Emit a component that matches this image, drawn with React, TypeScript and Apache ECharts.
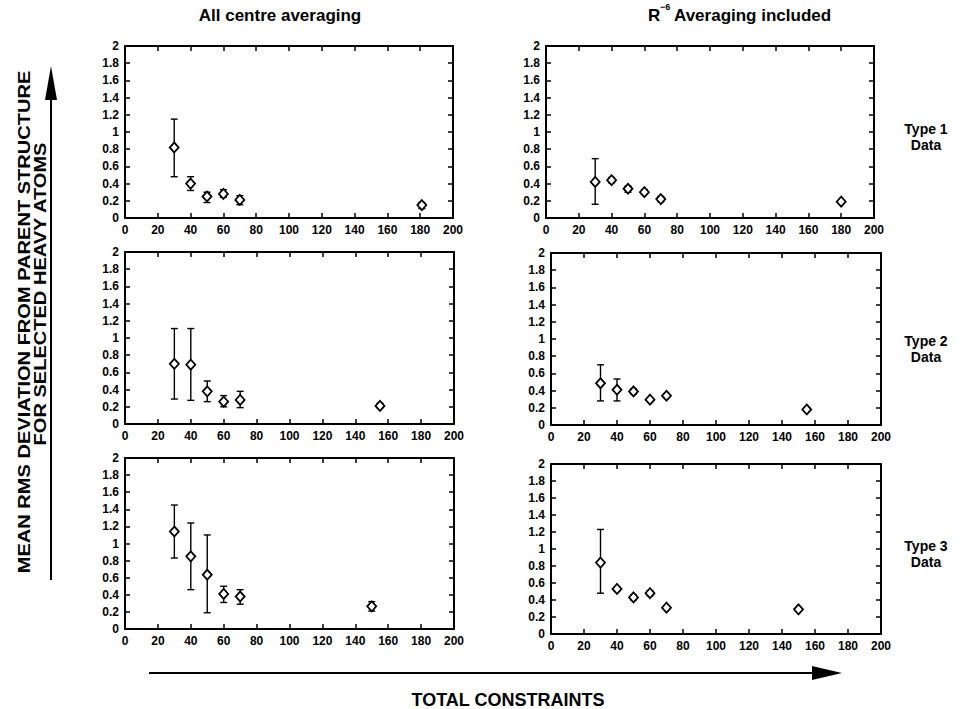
import React, { useEffect, useRef } from "react";
import * as echarts from "echarts";

// ---- data (x = total constraints, y = mean RMS deviation, lo/hi = error bar ends)
const p1X = [30, 40, 50, 60, 70, 181];
const p1Y = [0.82, 0.4, 0.25, 0.28, 0.21, 0.15];
const p1Lo = [0.48, 0.32, 0.18, 0.24, 0.155, 0.11];
const p1Hi = [1.15, 0.48, 0.3, 0.33, 0.26, 0.18];

const p2X = [30, 40, 50, 60, 70, 180];
const p2Y = [0.42, 0.44, 0.34, 0.3, 0.22, 0.19];
const p2Lo = [0.16, 0.41, 0.3, 0.28, 0.19, 0.175];
const p2Hi = [0.69, 0.47, 0.37, 0.33, 0.25, 0.2];

const p3X = [30, 40, 50, 60, 70, 155];
const p3Y = [0.7, 0.69, 0.38, 0.26, 0.28, 0.21];
const p3Lo = [0.29, 0.275, 0.26, 0.2, 0.19, 0.19];
const p3Hi = [1.11, 1.11, 0.5, 0.33, 0.38, 0.24];

const p4X = [30, 40, 50, 60, 70, 155];
const p4Y = [0.485, 0.41, 0.39, 0.295, 0.34, 0.18];
const p4Lo = [0.28, 0.28, 0.36, 0.28, 0.32, 0.165];
const p4Hi = [0.7, 0.535, 0.42, 0.31, 0.36, 0.195];

const p5X = [30, 40, 50, 60, 70, 150];
const p5Y = [1.14, 0.85, 0.635, 0.41, 0.38, 0.265];
const p5Lo = [0.83, 0.46, 0.19, 0.31, 0.29, 0.21];
const p5Hi = [1.45, 1.24, 1.1, 0.5, 0.46, 0.32];

const p6X = [30, 40, 50, 60, 70, 150];
const p6Y = [0.84, 0.53, 0.43, 0.48, 0.31, 0.29];
const p6Lo = [0.48, 0.51, 0.4, 0.45, 0.3, 0.275];
const p6Hi = [1.23, 0.55, 0.46, 0.51, 0.32, 0.305];

const xMin = 0;
const xMax = 200;
const xStep = 20;
const yMin = 0;
const yMax = 2;
const yStep = 0.2;

const columnTitles = ["All centre averaging", "Averaging included"];
const rowLabelsTop = ["Type 1", "Type 2", "Type 3"];
const rowLabelsBottom = ["Data", "Data", "Data"];
const yAxisTitle = ["MEAN RMS DEVIATION FROM PARENT STRUCTURE", "FOR SELECTED HEAVY ATOMS"];
const xAxisTitle = "TOTAL CONSTRAINTS";

const panels = [
  { x: p1X, y: p1Y, lo: p1Lo, hi: p1Hi },
  { x: p2X, y: p2Y, lo: p2Lo, hi: p2Hi },
  { x: p3X, y: p3Y, lo: p3Lo, hi: p3Hi },
  { x: p4X, y: p4Y, lo: p4Lo, hi: p4Hi },
  { x: p5X, y: p5Y, lo: p5Lo, hi: p5Hi },
  { x: p6X, y: p6Y, lo: p6Lo, hi: p6Hi },
];

// layout (pixels)
const gridBoxes = [
  { left: 125, top: 46, width: 328, height: 172 },
  { left: 546, top: 46, width: 328, height: 172 },
  { left: 125, top: 252, width: 329, height: 172 },
  { left: 551, top: 253, width: 330, height: 172 },
  { left: 125, top: 458, width: 329, height: 171 },
  { left: 551, top: 464, width: 330, height: 170 },
];
const rowLabelY = [129, 341, 546];

const FONT = "'Liberation Sans', Arial, Helvetica, sans-serif";
const BLACK = "#000";

export default function App() {
  const ref = useRef<HTMLDivElement>(null);

  useEffect(() => {
    if (!ref.current) return;
    const chart = echarts.init(ref.current, undefined, { renderer: "svg" });

    const fmtY = (v: number) => String(Math.round(v * 10) / 10);

    const grids = gridBoxes.map((g) => ({ ...g, containLabel: false }));

    const xAxes: any[] = [];
    const yAxes: any[] = [];
    const series: any[] = [];

    const axisLine = { show: true, onZero: false, lineStyle: { color: BLACK, width: 2 } };
    const tick = { show: true, inside: true, length: 5, lineStyle: { color: BLACK, width: 1.5 } };
    const label = { color: BLACK, fontSize: 12, fontWeight: "bold", fontFamily: FONT };

    panels.forEach((p, i) => {
      xAxes.push({
        gridIndex: i, type: "value", position: "bottom", min: xMin, max: xMax, interval: xStep,
        axisLine, axisTick: tick, splitLine: { show: false },
        axisLabel: { ...label, margin: 6 },
      });
      xAxes.push({
        gridIndex: i, type: "value", position: "top", min: xMin, max: xMax, interval: xStep,
        axisLine, axisTick: tick, splitLine: { show: false }, axisLabel: { show: false },
      });
      yAxes.push({
        gridIndex: i, type: "value", position: "left", min: yMin, max: yMax, interval: yStep,
        axisLine, axisTick: tick, splitLine: { show: false },
        axisLabel: { ...label, margin: 6, formatter: fmtY },
      });
      yAxes.push({
        gridIndex: i, type: "value", position: "right", min: yMin, max: yMax, interval: yStep,
        axisLine, axisTick: tick, splitLine: { show: false }, axisLabel: { show: false },
      });

      series.push({
        type: "custom",
        xAxisIndex: 2 * i,
        yAxisIndex: 2 * i,
        z: 2,
        silent: true,
        data: p.x.map((x, k) => [x, p.lo[k], p.hi[k]]),
        encode: { x: 0, y: [1, 2] },
        renderItem: (params: any, api: any) => {
          const x = api.value(0);
          const a = api.coord([x, api.value(1)]);
          const b = api.coord([x, api.value(2)]);
          const w = 3.5;
          const st = { stroke: BLACK, lineWidth: 1.4 };
          return {
            type: "group",
            children: [
              { type: "line", shape: { x1: a[0], y1: a[1], x2: b[0], y2: b[1] }, style: st },
              { type: "line", shape: { x1: a[0] - w, y1: a[1], x2: a[0] + w, y2: a[1] }, style: st },
              { type: "line", shape: { x1: b[0] - w, y1: b[1], x2: b[0] + w, y2: b[1] }, style: st },
            ],
          };
        },
      });
      series.push({
        type: "scatter",
        xAxisIndex: 2 * i,
        yAxisIndex: 2 * i,
        z: 3,
        symbol: "diamond",
        symbolSize: [9, 10],
        itemStyle: { color: "#fff", borderColor: BLACK, borderWidth: 1.8, opacity: 1 },
        data: p.x.map((x, k) => [x, p.y[k]]),
      });
    });

    const titleFont = `bold 17px ${FONT}`;
    const rowFont = `bold 14px ${FONT}`;

    const graphic: any[] = [
      { type: "text", x: 280, y: 15, style: { fill: BLACK, font: titleFont, text: columnTitles[0], textAlign: "center", textVerticalAlign: "middle" } },
      { type: "text", x: 648, y: 15, style: { fill: BLACK, font: titleFont, text: "R", textAlign: "left", textVerticalAlign: "middle" } },
      { type: "text", x: 660, y: 7, style: { fill: BLACK, font: `bold 9px ${FONT}`, text: "\u22126", textAlign: "left", textVerticalAlign: "middle" } },
      { type: "text", x: 674, y: 15, style: { fill: BLACK, font: titleFont, text: columnTitles[1], textAlign: "left", textVerticalAlign: "middle" } },
      ...rowLabelsTop.map((t, r) => ({
        type: "text", x: 926, y: rowLabelY[r],
        style: { fill: BLACK, font: rowFont, text: t, textAlign: "center", textVerticalAlign: "middle" },
      })),
      ...rowLabelsBottom.map((t, r) => ({
        type: "text", x: 926, y: rowLabelY[r] + 16,
        style: { fill: BLACK, font: rowFont, text: t, textAlign: "center", textVerticalAlign: "middle" },
      })),
      { type: "text", x: 24, y: 322, rotation: Math.PI / 2, scaleX: 1.18,
        style: { fill: BLACK, font: `bold 17px ${FONT}`, text: yAxisTitle[0], textAlign: "center", textVerticalAlign: "middle" } },
      { type: "text", x: 40, y: 294, rotation: Math.PI / 2, scaleX: 1.18,
        style: { fill: BLACK, font: `bold 17px ${FONT}`, text: yAxisTitle[1], textAlign: "center", textVerticalAlign: "middle" } },
      { type: "line", shape: { x1: 51, y1: 98, x2: 51, y2: 580 }, style: { stroke: BLACK, lineWidth: 2 } },
      { type: "polygon", shape: { points: [[51, 66], [45, 100], [57, 100]] }, style: { fill: BLACK } },
      { type: "line", shape: { x1: 149, y1: 673, x2: 815, y2: 673 }, style: { stroke: BLACK, lineWidth: 2 } },
      { type: "polygon", shape: { points: [[842, 673], [812, 666], [812, 680]] }, style: { fill: BLACK } },
      { type: "text", x: 508, y: 700, style: { fill: BLACK, font: `bold 18px ${FONT}`, text: xAxisTitle, textAlign: "center", textVerticalAlign: "middle" } },
    ];

    chart.setOption({
      animation: false,
      backgroundColor: "#fff",
      grid: grids,
      xAxis: xAxes,
      yAxis: yAxes,
      series,
      graphic,
    });

    return () => chart.dispose();
  }, []);

  return (
    <div
      ref={ref}
      style={{ position: "fixed", left: 0, top: 0, width: 970, height: 709, background: "#fff" }}
    />
  );
}
